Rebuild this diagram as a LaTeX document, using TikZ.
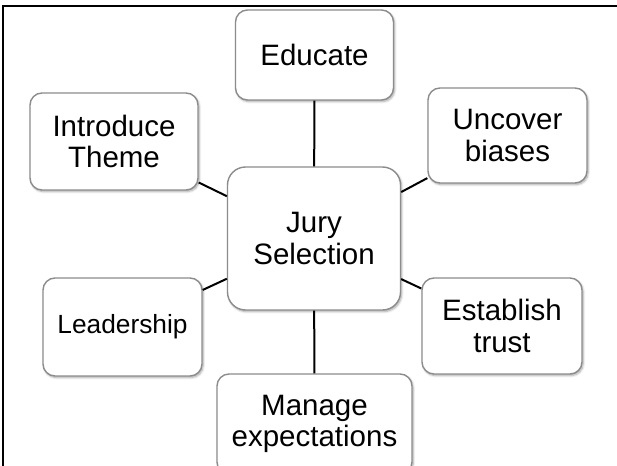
\documentclass[tikz,border=0pt]{standalone}
\usepackage{fontspec}
\setmainfont{Liberation Sans}
\usetikzlibrary{shadows.blur}
\tikzset{
  x=1pt, y=-1pt,
  idea/.style={draw=black!45, line width=1.4pt, fill=white, rounded corners=12pt,
    align=center, inner sep=0pt,
    font=\fontsize{29.5}{31.5}\selectfont,
    blur shadow={shadow xshift=1.2pt, shadow yshift=-1.6pt, shadow blur steps=6, shadow opacity=35}},
  conn/.style={draw=black, line width=2pt},
  frameline/.style={draw=black, line width=2pt}
}
\begin{document}
\begin{tikzpicture}
\useasboundingbox (0,0) rectangle (617,465);
\clip (0,0) rectangle (617,465);
\coordinate (fa) at (3,470);
\coordinate (fb) at (3,6);
\coordinate (fc) at (620,6);
\draw[frameline] (fa) -- (fb) -- (fc);

\node[idea, minimum width=158pt, minimum height=90pt] (edu) at (314.5,55) {Educate};
\node[idea, minimum width=168pt, minimum height=97pt] (intro) at (114,141.5) {Introduce\\Theme};
\node[idea, minimum width=173pt, minimum height=143pt, rounded corners=18pt] (jury) at (314,238.5) {Jury\\Selection};
\node[idea, minimum width=159pt, minimum height=95pt] (unc) at (507.5,135.5) {Uncover\\biases};
\node[idea, minimum width=160pt, minimum height=96pt] (est) at (502,326) {Establish\\trust};
\node[idea, minimum width=159pt, minimum height=98pt, font=\fontsize{26.3}{28}\selectfont] (lead) at (122.5,327) {Leadership};
\node[idea, minimum width=195pt, minimum height=100pt] (man) at (314.5,424) {Manage\\expectations};

\draw[conn] (jury) -- (edu);
\draw[conn] (jury) -- (intro);
\draw[conn] (jury) -- (unc);
\draw[conn] (jury) -- (est);
\draw[conn] (jury) -- (lead);
\draw[conn] (jury) -- (man);
\end{tikzpicture}
\end{document}
